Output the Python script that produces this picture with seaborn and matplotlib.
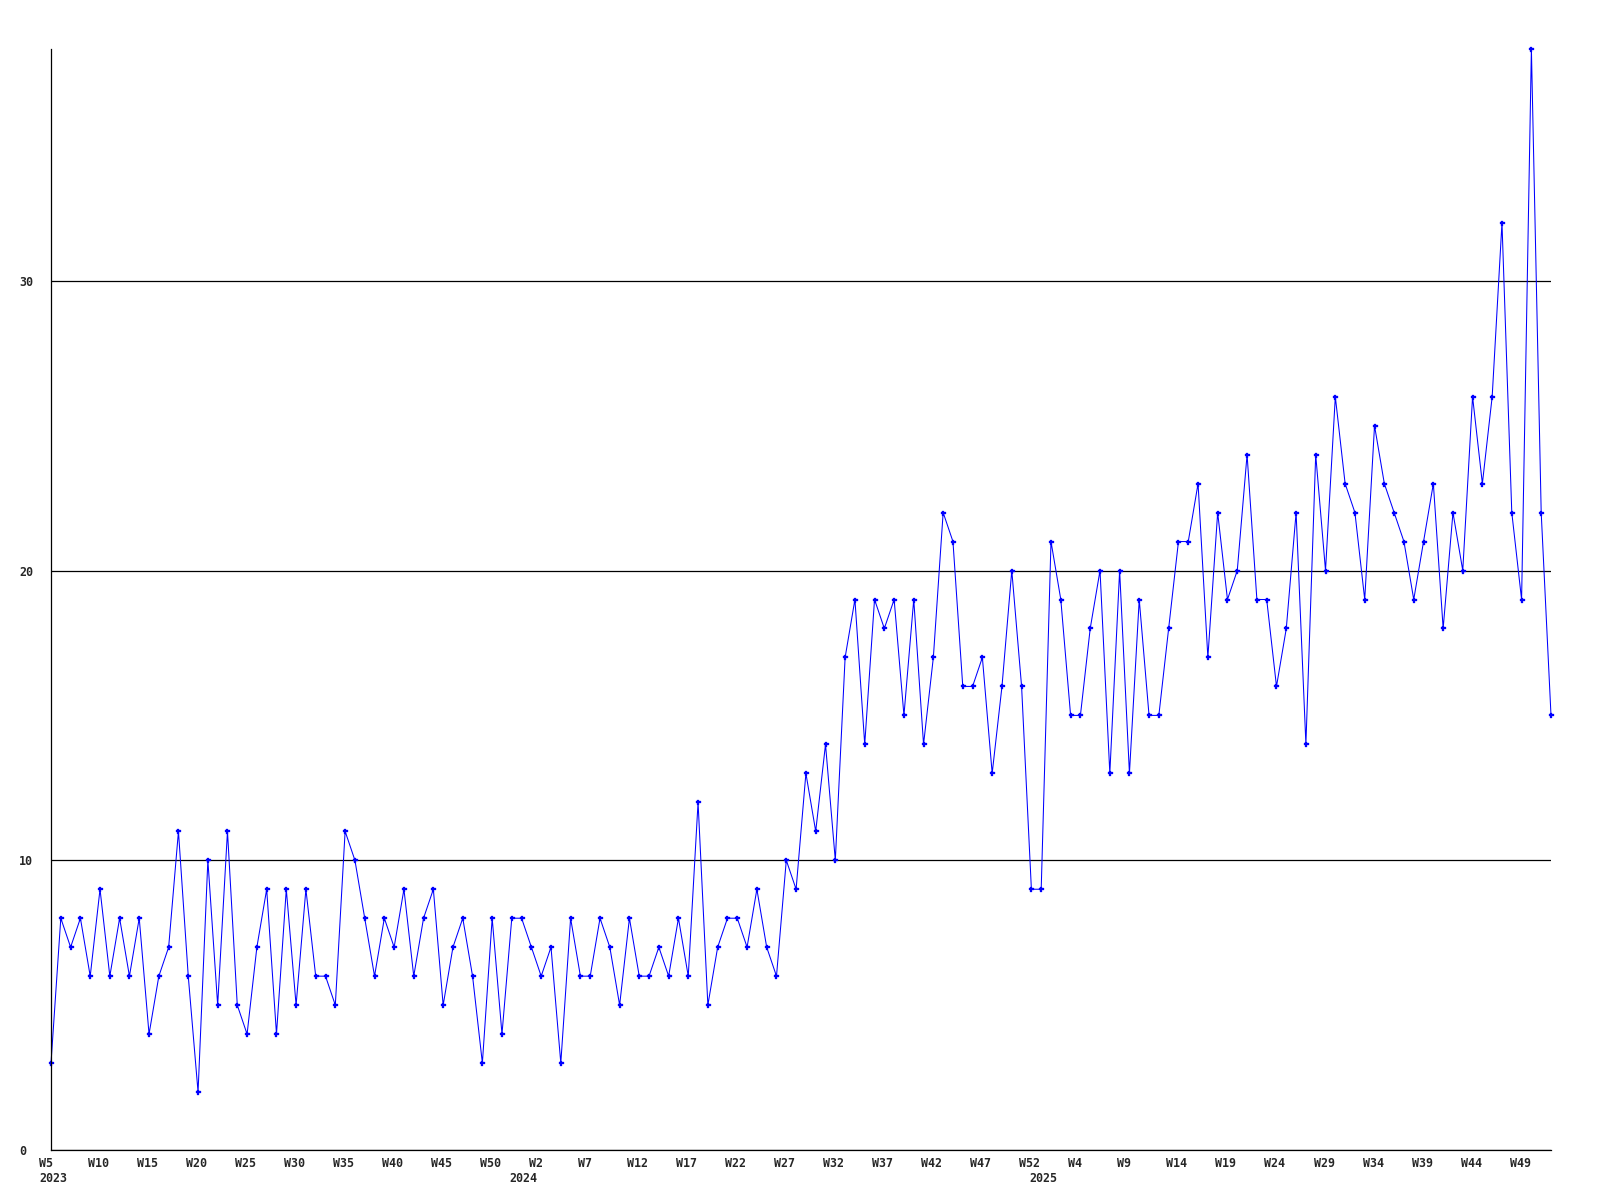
#!/usr/bin/env python3
"""Weekly counts, 2023 W5 to 2025 W52, drawn as a plain line chart."""

import numpy as np
import pandas as pd
import matplotlib
matplotlib.use("Agg")
import matplotlib.pyplot as plt
import matplotlib.transforms as mtransforms
import seaborn as sns

# (year, first week, last week) - weeks numbered from 0
year_spans = [(2023, 5, 52), (2024, 0, 52), (2025, 0, 52)]

counts_2023 = [3, 8, 7, 8, 6, 9, 6, 8, 6, 8,
               4, 6, 7, 11, 6, 2, 10, 5, 11, 5,
               4, 7, 9, 4, 9, 5, 9, 6, 6, 5,
               11, 10, 8, 6, 8, 7, 9, 6, 8, 9,
               5, 7, 8, 6, 3, 8, 4, 8]
counts_2024 = [8, 7,
               6, 7, 3, 8, 6, 6, 8, 7, 5, 8,
               6, 6, 7, 6, 8, 6, 12, 5, 7, 8,
               8, 7, 9, 7, 6, 10, 9, 13, 11, 14,
               10, 17, 19, 14, 19, 18, 19, 15, 19, 14,
               17, 22, 21, 16, 16, 17, 13, 16, 20, 16,
               9]
counts_2025 = [9,
               21, 19, 15, 15, 18, 20, 13, 20,
               13, 19, 15, 15, 18, 21, 21, 23, 17, 22,
               19, 20, 24, 19, 19, 16, 18, 22, 14, 24,
               20, 26, 23, 22, 19, 25, 23, 22, 21, 19,
               21, 23, 18, 22, 20, 26, 23, 26, 32, 22,
               19, 38, 22, 15]

y_ticks = [0, 10, 20, 30]
LINE_COLOR = "#0000ff"

# Setup plotting
sns.set_style("white")
plt.rcParams["font.family"] = ["DejaVu Sans Mono"]
plt.rcParams["font.weight"] = "bold"
plt.rcParams["font.size"] = 8.4

# Build table
rows = []
for (year, w0, w1), vals in zip(year_spans, [counts_2023, counts_2024, counts_2025]):
    for week, v in zip(range(w0, w1 + 1), vals):
        rows.append({"year": year, "week": week, "count": v})
df = pd.DataFrame(rows)
df["idx"] = np.arange(len(df))

fig = plt.figure(figsize=(16, 12), dpi=100)
ax = fig.add_axes([51 / 1600, 50 / 1200, 1500 / 1600, 1101 / 1200])

sns.lineplot(data=df, x="idx", y="count", ax=ax, color=LINE_COLOR,
             linewidth=0.75, marker="P", markersize=3.6,
             markeredgecolor=LINE_COLOR, markeredgewidth=0.2)
for line in ax.lines:
    line.set_clip_on(False)

ax.set_xlim(0, len(df) - 1)
ax.set_ylim(0, df["count"].max())
ax.set_xlabel("")
ax.set_ylabel("")

# x ticks: every 5th week, plus the year on a second row at each year start
major_pos = df["idx"][::5].tolist()
major_labels = [f"W{w}" for w in df["week"][::5]]
first_rows = df.drop_duplicates("year")
ax.set_xticks(major_pos)
ax.set_xticklabels(major_labels)
ax.set_xticks(first_rows["idx"].tolist(), minor=True)
ax.set_xticklabels([str(y) for y in first_rows["year"]], minor=True)
ax.xaxis.remove_overlapping_locs = False
ax.tick_params(axis="x", which="both", length=0)
ax.tick_params(axis="x", which="major", pad=5)
ax.tick_params(axis="x", which="minor", pad=15.5)

ax.set_yticks(y_ticks)
ax.tick_params(axis="y", length=0, pad=23)
for lab in ax.get_yticklabels():
    lab.set_horizontalalignment("left")

ax.grid(axis="y", color="black", linewidth=0.9)
ax.grid(axis="x", visible=False)
for side in ["top", "right"]:
    ax.spines[side].set_visible(False)
for side in ["left", "bottom"]:
    ax.spines[side].set_color("black")
    ax.spines[side].set_linewidth(0.9)

fig.canvas.draw()
shift = mtransforms.ScaledTranslation(-12 / 100, 0, fig.dpi_scale_trans)
for lab in ax.get_xticklabels(which="both"):
    lab.set_horizontalalignment("left")
    lab.set_transform(lab.get_transform() + shift)

plt.savefig("out.png", dpi=100)
plt.close()
